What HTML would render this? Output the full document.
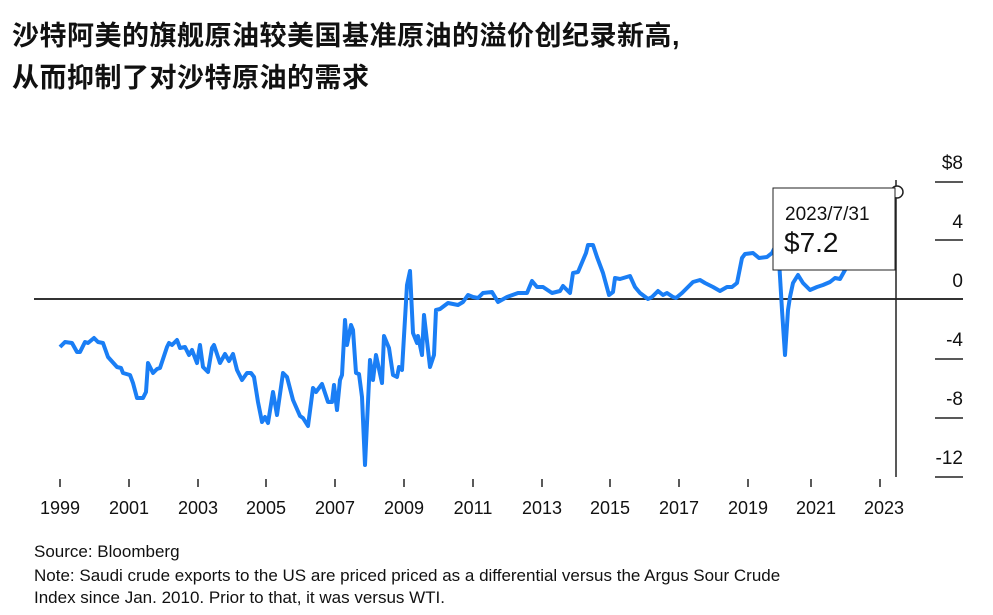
<!DOCTYPE html>
<html><head><meta charset="utf-8"><style>
body{margin:0;background:#fff;width:993px;height:615px;overflow:hidden;font-family:"Liberation Sans","Noto Sans CJK SC",sans-serif;}
.t{position:absolute;left:12px;font-weight:bold;font-size:27px;color:#111;letter-spacing:0.5px}
.f{position:absolute;left:34px;font-size:17px;color:#111}
</style></head><body>
<div class="t" style="top:14px">沙特阿美的旗舰原油较美国基准原油的溢价创纪录新高,</div>
<div class="t" style="top:56px">从而抑制了对沙特原油的需求</div>
<svg width="993" height="615" style="position:absolute;left:0;top:0" font-family="Liberation Sans, sans-serif">
<g stroke="#222" stroke-width="1.5">
<line x1="935" y1="182" x2="963" y2="182"/><line x1="935" y1="240" x2="963" y2="240"/>
<line x1="935" y1="359" x2="963" y2="359"/><line x1="935" y1="418" x2="963" y2="418"/><line x1="935" y1="477" x2="963" y2="477"/>
</g>
<line x1="34" y1="299" x2="963" y2="299" stroke="#333" stroke-width="2"/>
<g font-size="19" fill="#111" text-anchor="end">
<text x="963" y="169">$8</text><text x="963" y="228">4</text><text x="963" y="287">0</text>
<text x="963" y="346">-4</text><text x="963" y="405">-8</text><text x="963" y="464">-12</text>
</g>
<g stroke="#222" stroke-width="1.5">
<line x1="60" y1="479" x2="60" y2="487"/><line x1="129" y1="479" x2="129" y2="487"/><line x1="198" y1="479" x2="198" y2="487"/><line x1="266" y1="479" x2="266" y2="487"/><line x1="335" y1="479" x2="335" y2="487"/><line x1="404" y1="479" x2="404" y2="487"/><line x1="473" y1="479" x2="473" y2="487"/><line x1="542" y1="479" x2="542" y2="487"/><line x1="610" y1="479" x2="610" y2="487"/><line x1="679" y1="479" x2="679" y2="487"/><line x1="748" y1="479" x2="748" y2="487"/><line x1="811" y1="479" x2="811" y2="487"/><line x1="880" y1="479" x2="880" y2="487"/>
</g>
<g font-size="18" fill="#111" text-anchor="middle">
<text x="60" y="514">1999</text><text x="129" y="514">2001</text><text x="198" y="514">2003</text><text x="266" y="514">2005</text><text x="335" y="514">2007</text><text x="404" y="514">2009</text><text x="473" y="514">2011</text><text x="542" y="514">2013</text><text x="610" y="514">2015</text><text x="679" y="514">2017</text><text x="748" y="514">2019</text><text x="816" y="514">2021</text><text x="884" y="514">2023</text>
</g>
<polyline fill="none" stroke="#1a7ef5" stroke-width="4" stroke-linejoin="round" points="60,347 65,342 72,343 77,352 80,352 85,342 88,343 94,338 98,342 103,343 108,357 117,367 121,368 123,373 130,375 133,383 137,398 143,398 146,392 148,363 153,373 157,369 160,368 167,347 169,343 172,345 177,340 180,348 185,347 189,355 192,350 197,363 200,345 203,367 208,372 212,348 214,345 220,363 225,354 229,361 233,354 237,370 242,380 247,373 251,373 254,377 258,402 262,422 265,417 268,423 273,392 277,415 283,373 287,377 293,400 300,416 303,418 308,426 313,388 316,392 322,384 328,402 332,402 334,385 337,410 340,380 342,375 345,320 347,345 351,325 353,330 356,373 359,374 362,397 365,465 370,360 373,380 376,355 382,383 384,336 389,348 393,375 397,377 399,367 402,370 407,285 410,271 413,333 417,343 418,336 422,355 424,315 430,367 434,355 436,310 440,309 448,303 458,305 463,302 468,295 473,297 478,298 483,293 492,292 498,302 507,297 518,293 527,293 532,281 537,287 543,287 552,293 560,291 563,286 570,293 573,273 578,272 586,253 588,245 593,245 597,257 603,273 609,295 613,292 615,278 620,279 630,276 635,287 640,293 648,299 652,297 658,291 663,295 667,293 673,297 676,298 682,293 690,285 693,282 700,280 705,283 713,287 720,291 727,287 732,287 737,283 742,258 745,254 753,253 759,258 767,257 772,253 776,245 779,260 782,310 785,355 788,310 790,297 793,283 798,275 803,283 810,290 817,287 823,285 830,282 835,278 840,279 845,270 860,240 880,205 897,192"/>
<line x1="896" y1="180" x2="896" y2="477" stroke="#222" stroke-width="1.5"/>
<circle cx="897" cy="192" r="6" fill="#fff" stroke="#222" stroke-width="1.5"/>
<rect x="773" y="188" width="122" height="82" fill="#fff" stroke="#222" stroke-width="1"/>
<text x="785" y="220" font-size="19" fill="#111">2023/7/31</text>
<text x="784" y="252" font-size="28" fill="#111">$7.2</text>
</svg>
<div class="f" style="top:542px">Source: Bloomberg</div>
<div class="f" style="top:566px">Note: Saudi crude exports to the US are priced priced as a differential versus the Argus Sour Crude</div>
<div class="f" style="top:588px">Index since Jan. 2010. Prior to that, it was versus WTI.</div>
</body></html>
